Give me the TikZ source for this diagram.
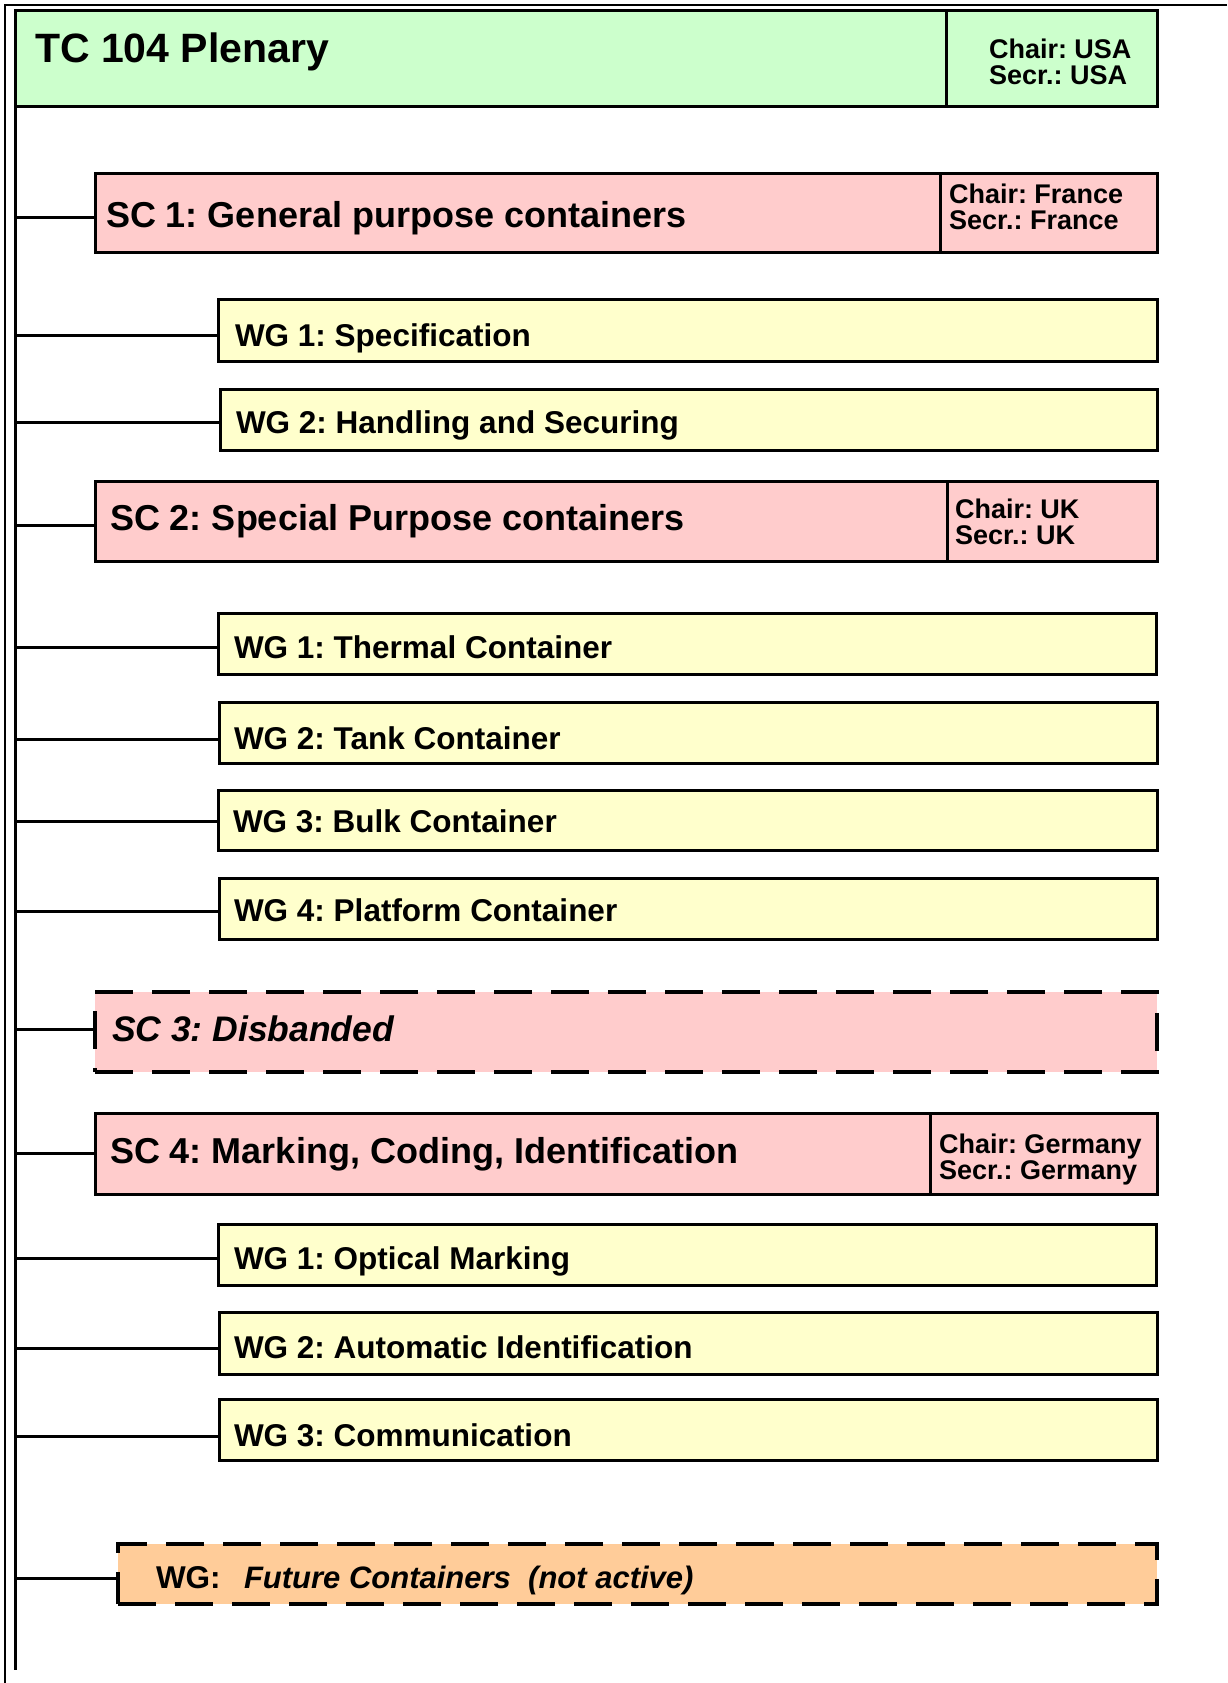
\documentclass[tikz,border=0pt]{standalone}
\usepackage{fontspec}
\setmainfont{Liberation Sans}
\frenchspacing
\definecolor{tcgreen}{HTML}{CCFFCC}
\definecolor{scpink}{HTML}{FFCCCC}
\definecolor{wgyellow}{HTML}{FFFFCC}
\definecolor{futorange}{HTML}{FFCC99}
\newcommand\bx[6]{\node[#2, minimum width={#5-#3}, minimum height={#6-#4}] (#1) at (#3,#4) {};}
\begin{document}
\frenchspacing
\begin{tikzpicture}[x=1pt,y=-1pt,
  box/.style={draw, line width=3pt, anchor=north west, inner sep=0pt, outer sep=0pt},
  tcbox/.style={box, fill=tcgreen},
  scbox/.style={box, fill=scpink},
  wgbox/.style={box, fill=wgyellow},
  dbox/.style={box, line width=4pt, dash pattern=on 38pt off 19pt},
  conn/.style={line width=3pt},
  trunk/.style={line width=3pt},
  frame/.style={line width=2pt},
  txt/.style={anchor=base west, inner sep=0pt, outer sep=0pt},
  tctext/.style={txt, font=\fontsize{41}{44}\selectfont\bfseries},
  sctext/.style={txt, font=\fontsize{36}{40}\selectfont\bfseries},
  wgtext/.style={txt, font=\fontsize{31.5}{34}\selectfont\bfseries},
  chtext/.style={txt, font=\fontsize{27}{29}\selectfont\bfseries},
]
\useasboundingbox (0,0) rectangle (1227,1683);
% outer frame
\coordinate (fa) at (1227,5);
\coordinate (fb) at (5,5);
\coordinate (fc) at (5,1683);
\draw[frame] (fa) -- (fb) -- (fc);

% boxes
\bx{tc}{tcbox}{15}{11}{946}{107}
\bx{tcc}{tcbox}{946}{11}{1157}{107}
\bx{sc1}{scbox}{95}{173}{940}{252}
\bx{sc1c}{scbox}{940}{173}{1157}{252}
\bx{wg11}{wgbox}{218}{299}{1157}{361}
\bx{wg12}{wgbox}{220}{389}{1157}{450}
\bx{sc2}{scbox}{95}{481}{947}{561}
\bx{sc2c}{scbox}{947}{481}{1157}{561}
\bx{wg21}{wgbox}{218}{613}{1156}{674}
\bx{wg22}{wgbox}{219}{702}{1157}{763}
\bx{wg23}{wgbox}{218}{790}{1157}{850}
\bx{wg24}{wgbox}{219}{878}{1157}{939}
\bx{sc3}{dbox, fill=scpink}{95}{992}{1157}{1072}
\bx{sc4}{scbox}{95}{1113}{930}{1194}
\bx{sc4c}{scbox}{930}{1113}{1157}{1194}
\bx{wg41}{wgbox}{218}{1224}{1156}{1285}
\bx{wg42}{wgbox}{219}{1312}{1157}{1374}
\bx{wg43}{wgbox}{219}{1399}{1157}{1460}
\bx{fut}{dbox, fill=futorange}{118}{1544}{1157}{1604}

% trunk
\coordinate (tEnd) at (15,1670);
\draw[trunk] (tc.south west) -- (tEnd);

% connectors
\foreach \n/\y in {sc1/217, wg11/335, wg12/422, sc2/525, wg21/647, wg22/739, wg23/821, wg24/911, sc3/1029, sc4/1153, wg41/1258, wg42/1348, wg43/1436, fut/1578}{
  \coordinate (k\n) at (15,\y);
  \draw[conn] (k\n) -- (k\n -| \n.west);
}

% texts
\node[tctext] (ttc) at (35,63) {TC 104 Plenary};
\node[chtext] (ttc1) at (989,59) {Chair: USA};
\node[chtext] (ttc2) at (989,85) {Secr.: USA};

\node[sctext] (tsc1) at (106,227) {SC 1: General purpose containers};
\node[chtext] (tsc1a) at (949,203) {Chair: France};
\node[chtext] (tsc1b) at (949,229) {Secr.: France};

\node[wgtext] (twg11) at (235,346) {WG 1: Specification};
\node[wgtext] (twg12) at (236,433) {WG 2: Handling and Securing};

\node[sctext] (tsc2) at (110,530) {SC 2: Special Purpose containers};
\node[chtext] (tsc2a) at (955,518) {Chair: UK};
\node[chtext] (tsc2b) at (955,544) {Secr.: UK};

\node[wgtext] (twg21) at (234,658) {WG 1: Thermal Container};
\node[wgtext] (twg22) at (234,749) {WG 2: Tank Container};
\node[wgtext] (twg23) at (233,832) {WG 3: Bulk Container};
\node[wgtext] (twg24) at (234,921) {WG 4: Platform Container};

\node[sctext, font=\fontsize{35.5}{40}\selectfont\bfseries\itshape] (tsc3) at (112,1041) {SC 3: Disbanded};

\node[sctext] (tsc4) at (110,1163) {SC 4: Marking, Coding, Identification};
\node[chtext] (tsc4a) at (939,1153) {Chair: Germany};
\node[chtext] (tsc4b) at (939,1179) {Secr.: Germany};

\node[wgtext] (twg41) at (234,1269) {WG 1: Optical Marking};
\node[wgtext] (twg42) at (234,1358) {WG 2: Automatic Identification};
\node[wgtext] (twg43) at (234,1446) {WG 3: Communication};

\node[wgtext] (tfut1) at (156,1588) {WG:};
\node[wgtext, font=\fontsize{31}{34}\selectfont\bfseries\itshape] (tfut2) at (244,1588) {Future Containers\ \ (not active)};
\end{tikzpicture}
\end{document}
